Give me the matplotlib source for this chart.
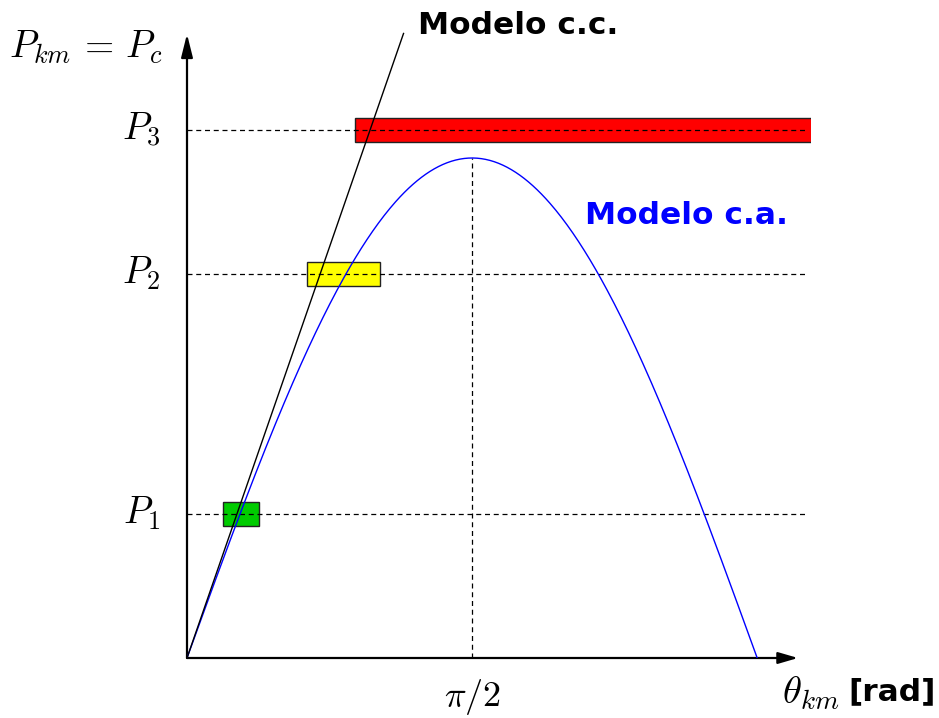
import numpy as np
import matplotlib.pyplot as plt

plt.rcParams['mathtext.fontset'] = 'cm'

# power levels (normalised to the peak of the a.c. curve)
levels = [0.289, 0.769, 1.056]
level_labels = [r'$P_1$', r'$P_2$', r'$P_3$']
# operating-region boxes: (x start, x end) in rad
box_x = [(0.196, 0.397), (0.661, 1.062), (0.926, 3.447)]
box_colors = ['#00cc00', '#ffff00', '#ff0000']
box_h = 0.048
# d.c. model slope and end of its line
dc_slope = 1.047
dc_xend = 1.193

W, H = 939, 718
sx, sy = 181.5, 500.0   # px per rad, px per unit power
fig = plt.figure(figsize=(W / 100, H / 100), dpi=100)
x0, y0 = 187, 60
ax = fig.add_axes([x0 / W, y0 / H, 624 / W, 628 / H])
ax.set_xlim(0, 624 / sx)
ax.set_ylim(0, 628 / sy)
ax.axis('off')

# dashed reference lines
ax.plot([np.pi / 2, np.pi / 2], [0, 1], ls=(0, (4, 3)), color='black', lw=0.9, zorder=1)

# boxes
for (xa, xb), p, c in zip(box_x, levels, box_colors):
    ax.add_patch(plt.Rectangle((xa, p - box_h / 2), xb - xa, box_h,
                               facecolor=c, edgecolor='#222222', lw=1.0, zorder=2))
for p in levels:
    ax.plot([0, 3.41], [p, p], ls=(0, (4, 3)), color='black', lw=0.9, zorder=3)

# a.c. model
th = np.linspace(0, np.pi, 400)
ax.plot(th, np.sin(th), color='blue', lw=1.0, zorder=4)
# d.c. model
ax.plot([0, dc_xend], [0, dc_slope * dc_xend], color='black', lw=1.0, zorder=4)

# axes with arrows
ax.annotate('', xy=(611 / sx, 0), xytext=(0, 0),
            arrowprops=dict(arrowstyle='-|>,head_length=1.2,head_width=0.35',
                            color='black', lw=1.6, shrinkA=0, shrinkB=0))
ax.annotate('', xy=(0, 624 / sy), xytext=(0, 0),
            arrowprops=dict(arrowstyle='-|>,head_length=1.4,head_width=0.35',
                            color='black', lw=1.6, shrinkA=0, shrinkB=0))

# labels
for p, lab in zip(levels, level_labels):
    ax.text(-0.15, p, lab, fontsize=27, ha='right', va='center')
ax.text(-0.135, 1.222, r'$P_{km}\,=\,P_c$', fontsize=27, ha='right', va='center')
ax.text(np.pi / 2, -0.078, r'$\pi/2$', fontsize=26, ha='center', va='center')
ax.text(595 / sx, -0.07, r'$\theta_{km}$', fontsize=28, ha='left', va='center')
ax.text(661 / sx, -0.068, '[rad]', fontsize=22.5, fontweight='bold', ha='left', va='center')
ax.text(231 / sx, 1.266, 'Modelo c.c.', fontsize=22.5, fontweight='bold', ha='left', va='center')
ax.text(398 / sx, 0.884, 'Modelo c.a.', fontsize=22.5, fontweight='bold', color='blue',
        ha='left', va='center')

fig.savefig('out.png', dpi=100)
